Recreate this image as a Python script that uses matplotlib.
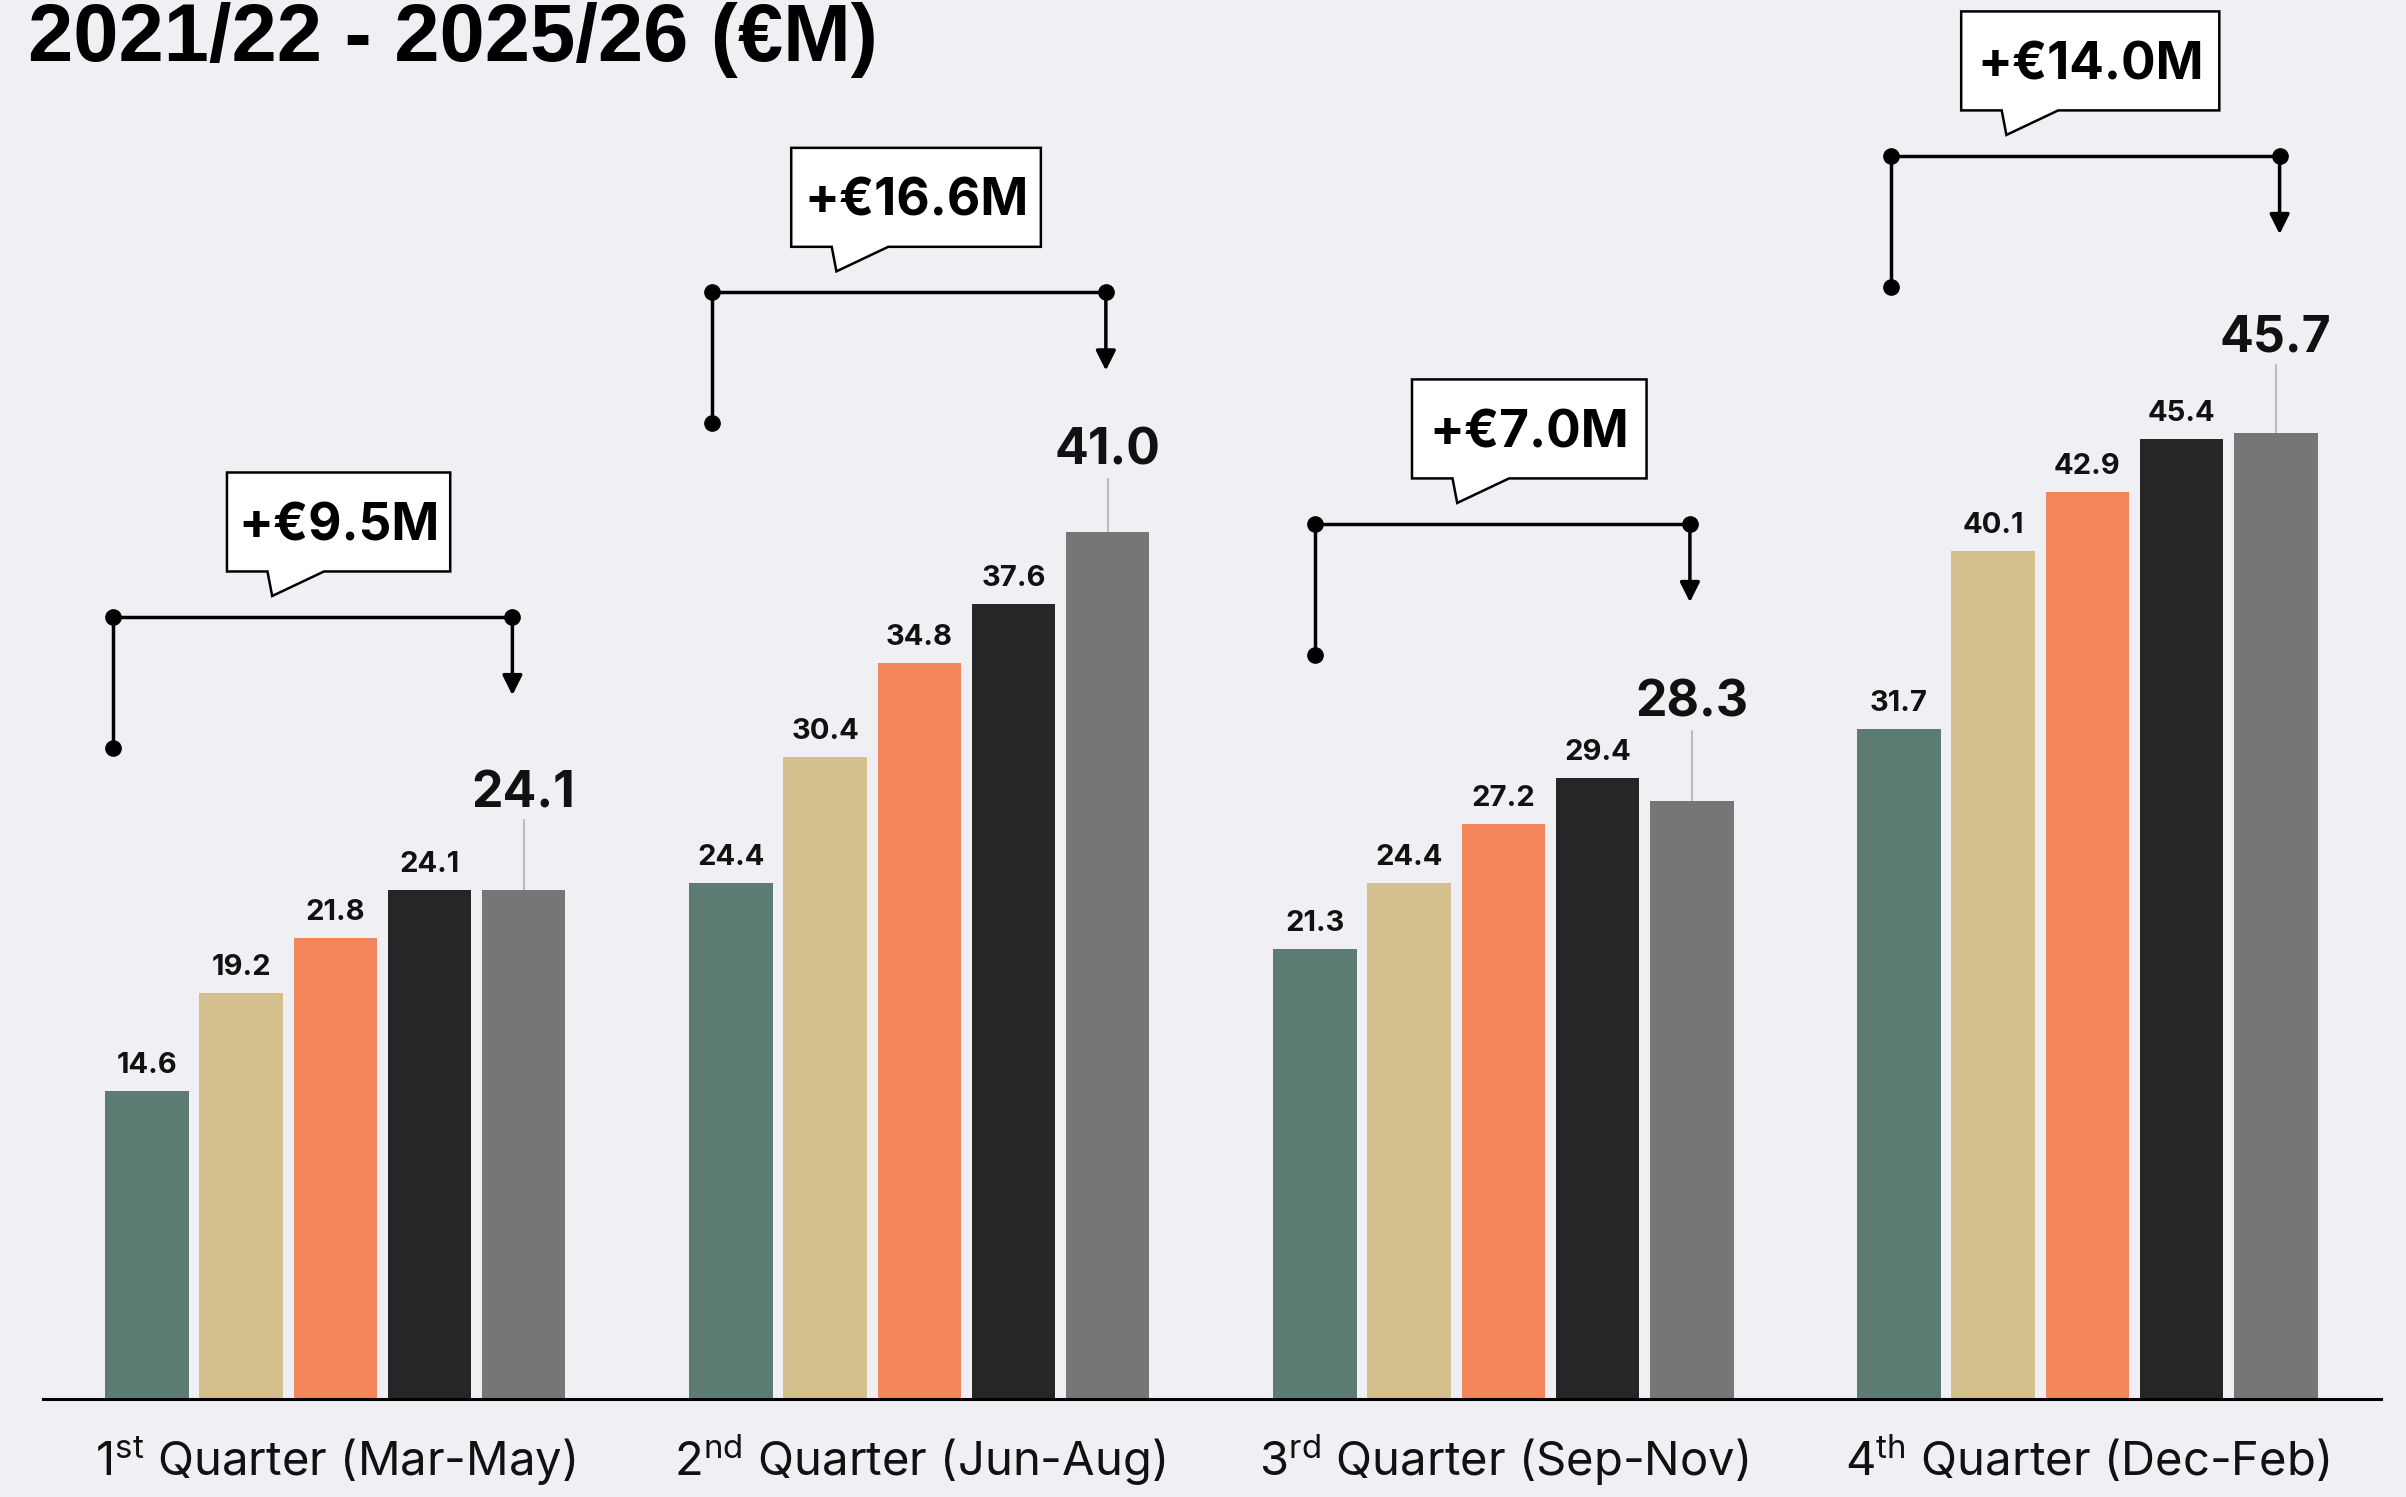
import numpy as np
import matplotlib
matplotlib.use("Agg")
import matplotlib.pyplot as plt
from matplotlib.patches import Polygon

# Data
quarters = ["1$^{\\mathrm{st}}$ Quarter (Mar-May)", "2$^{\\mathrm{nd}}$ Quarter (Jun-Aug)",
            "3$^{\\mathrm{rd}}$ Quarter (Sep-Nov)", "4$^{\\mathrm{th}}$ Quarter (Dec-Feb)"]
seasons = ["2021/22", "2022/23", "2023/24", "2024/25", "2025/26"]
s2021 = [14.6, 24.4, 21.3, 31.7]
s2022 = [19.2, 30.4, 24.4, 40.1]
s2023 = [21.8, 34.8, 27.2, 42.9]
s2024 = [24.1, 37.6, 29.4, 45.4]
s2025 = [24.1, 41.0, 28.3, 45.7]
title = "2021/22 - 2025/26 (€M)"

# Layout of the bracket callouts (data units, relative to each group's first bar)
bracket_top = [37.0, 52.35, 41.4, 58.8]
bracket_left = [-0.36, -0.20, 0.0, -0.09]
bracket_right = [3.88, 3.98, 3.98, 4.04]
box_left = [0.85, 0.64, 1.03, 0.66]
box_right = [3.22, 3.29, 3.52, 3.40]
# big label / leader offsets above the latest bar
big_label_off = [3.9, 3.2, 4.0, 3.85]
leader_off = [3.3, 2.5, 3.3, 3.2]

colors = ["#5c7c73", "#d4c08c", "#f3875b", "#262626", "#767676"]
bg = "#f0eff4"

plt.rcParams["font.family"] = ["Inter", "DejaVu Sans"]
plt.rcParams["mathtext.fontset"] = "custom"
plt.rcParams["mathtext.rm"] = "Inter"

fig = plt.figure(figsize=(24.06, 14.97), dpi=100, facecolor=bg)
ax = fig.add_axes([0, 0, 1, 1])
ax.set_facecolor(bg)
ax.set_xlim(-1.5594, 23.982)
ax.set_ylim(-4.61, 66.17)
ax.axis("off")

series = np.array([s2021, s2022, s2023, s2024, s2025])
gap = 6.2
base = np.arange(len(quarters)) * gap

for j in range(len(seasons)):
    xs = base + j
    ax.bar(xs, series[j], width=0.886, color=colors[j], zorder=2)
    for g, (x, v) in enumerate(zip(xs, series[j])):
        if j < 4:
            ax.text(x, v + 0.85, f"{v:.1f}", ha="center", va="baseline",
                    fontsize=21, fontweight="bold", color="#111111")
        else:
            ax.plot([x, x], [v, v + leader_off[g]], color="#aaaaaa", lw=1.1, zorder=1)
            ax.text(x, v + big_label_off[g], f"{v:.1f}", ha="center", va="baseline",
                    fontsize=36, fontweight="bold", color="#111111")

# baseline
ax.plot([-1.103, 23.72], [0, 0], color="black", lw=2.2, zorder=3)

# x labels
for g, lab in enumerate(quarters):
    ax.text(base[g] + 2, -3.62, lab, ha="center", va="baseline", fontsize=34, color="#111111")

# bracket callouts
for g in range(len(quarters)):
    x0 = base[g]
    top = bracket_top[g]
    xl = x0 + bracket_left[g]
    xr = x0 + bracket_right[g]
    ax.plot([xl, xl, xr], [top - 6.18, top, top], color="black", lw=2.5,
            solid_joinstyle="miter", zorder=4)
    ax.plot([xl, xl, xr], [top - 6.18, top, top], "o", color="black", ms=11, zorder=4)
    ax.annotate("", xy=(xr, top - 3.7), xytext=(xr, top),
                arrowprops=dict(arrowstyle="-|>,head_length=0.6,head_width=0.3",
                                lw=2.5, color="black", shrinkA=0, shrinkB=0,
                                mutation_scale=20), zorder=4)

    bl = x0 + box_left[g]
    br = x0 + box_right[g]
    bb = top + 2.15
    bt = bb + 4.68
    tl = bl + 0.43
    pts = [(bl, bb), (tl, bb), (tl + 0.05, bb - 1.16), (tl + 0.6, bb), (br, bb), (br, bt), (bl, bt)]
    ax.add_patch(Polygon(pts, closed=True, fc="white", ec="black", lw=1.8, zorder=5))
    diff = series[-1][g] - series[0][g]
    ax.text((bl + br) / 2, (bb + bt) / 2 - 0.87, f"+€{diff:.1f}M", ha="center", va="baseline",
            fontsize=37, fontweight="bold", color="black", zorder=6)

fig.text(28 / 2406, 1 - 61 / 1497, title, ha="left", va="baseline", fontsize=58.5,
         fontweight="bold", family=["Liberation Sans", "DejaVu Sans"], color="black")

fig.savefig("out.png", dpi=100, facecolor=bg)
